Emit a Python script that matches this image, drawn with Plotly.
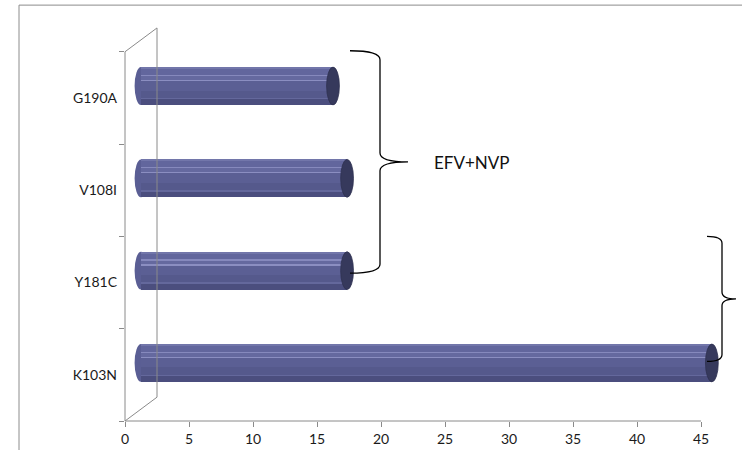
import plotly.graph_objects as go

# Mutations (bottom to top) and their frequencies
mutations = ["K103N", "Y181C", "V108I", "G190A"]
frequency = [44.6, 16.1, 16.1, 15.0]
x_ticks = [0, 5, 10, 15, 20, 25, 30, 35, 40, 45]
group_label = "EFV+NVP"

W, H = 742, 450
L, R, T, B = 125, 3, 20, 26
PX_PER_X = 12.8          # pixels per unit on the value axis
PX_PER_CAT = 93.0        # pixels per category band
DEPTH_X, DEPTH_Y = 32, 24  # 3-D depth offset of the back wall (px)

plot_w = W - L - R
plot_h = H - T - B
x_max = plot_w / PX_PER_X
y_lo = -0.5
y_hi = y_lo + plot_h / PX_PER_CAT

# bars sit half way into the depth
sx = (DEPTH_X / 2) / PX_PER_X
sy = (DEPTH_Y / 2) / PX_PER_CAT

BAR_T = 0.41  # bar thickness in category units
# (from-top fraction, to-top fraction, colour) stripes giving a cylinder shading
stripes = [
    (0.00, 0.05, "#7276aa"),
    (0.05, 0.20, "#62669d"),
    (0.20, 0.24, "#8689bd"),
    (0.24, 0.33, "#65699f"),
    (0.33, 0.37, "#8b8ec1"),
    (0.37, 0.62, "#5b5f94"),
    (0.62, 0.81, "#55598c"),
    (0.81, 0.85, "#64689c"),
    (0.85, 1.00, "#4b4e7e"),
]

fig = go.Figure()

# invisible trace so the front category axis carries the labels
fig.add_trace(go.Scatter(x=[0] * len(mutations), y=mutations, mode="markers",
                         marker=dict(opacity=0, size=1), hoverinfo="skip",
                         showlegend=False))

for f0, f1, col in stripes:
    fig.add_trace(go.Bar(
        x=frequency, y=mutations, orientation="h",
        width=(f1 - f0) * BAR_T, offset=BAR_T / 2 - f1 * BAR_T,
        marker=dict(color=col, line=dict(width=0)),
        xaxis="x2", yaxis="y2", showlegend=False, hoverinfo="skip",
    ))

shapes = []
cap_rx = 0.5  # half-width of the cylinder end ellipses (value units)
for i, v in enumerate(frequency):
    # rounded left end
    shapes.append(dict(type="circle", xref="x2", yref="y2", layer="below",
                       x0=-cap_rx, x1=cap_rx, y0=i - BAR_T / 2, y1=i + BAR_T / 2,
                       fillcolor="#5a5e94", line=dict(width=0)))
    # dark right cap
    shapes.append(dict(type="circle", xref="x2", yref="y2", layer="above",
                       x0=v - cap_rx, x1=v + cap_rx, y0=i - BAR_T / 2, y1=i + BAR_T / 2,
                       fillcolor="#36395c", line=dict(color="#2e3150", width=0.8)))

AX = "#8a8a8a"
dx_depth = DEPTH_X / PX_PER_X
dy_depth = DEPTH_Y / PX_PER_CAT
n = len(mutations)
# front axis lines
shapes.append(dict(type="line", xref="paper", yref="y", x0=0, x1=0,
                   y0=-0.5, y1=n - 0.5, line=dict(color=AX, width=1)))
shapes.append(dict(type="line", xref="x", yref="paper", x0=0, x1=x_ticks[-1],
                   y0=0, y1=0, line=dict(color=AX, width=1)))
# back wall edges
shapes.append(dict(type="line", xref="x", yref="y", x0=0, x1=dx_depth,
                   y0=-0.5, y1=-0.5 + dy_depth, line=dict(color=AX, width=1)))
shapes.append(dict(type="line", xref="x", yref="y", x0=0, x1=dx_depth,
                   y0=n - 0.5, y1=n - 0.5 + dy_depth, line=dict(color=AX, width=1)))
shapes.append(dict(type="line", xref="x", yref="y", x0=dx_depth, x1=dx_depth,
                   y0=-0.5 + dy_depth, y1=n - 0.5 + dy_depth, line=dict(color=AX, width=1),
                   layer="above"))


def to_paper(px, py):
    return (px - L) / plot_w, (H - B - py) / plot_h


def brace_path(x_open, x_spine, x_tip, top, bottom, r=9):
    mid = (top + bottom) / 2
    pts = [
        ("M", [(x_open, top)]),
        ("Q", [(x_spine, top), (x_spine, top + r)]),
        ("L", [(x_spine, mid - r)]),
        ("Q", [(x_spine, mid), (x_tip, mid)]),
        ("Q", [(x_spine, mid), (x_spine, mid + r)]),
        ("L", [(x_spine, bottom - r)]),
        ("Q", [(x_spine, bottom), (x_open, bottom)]),
    ]
    out = []
    for cmd, ps in pts:
        coords = " ".join("%.5f,%.5f" % to_paper(*p) for p in ps)
        out.append(cmd + " " + coords)
    return " ".join(out)


shapes.append(dict(type="path", xref="paper", yref="paper",
                   path=brace_path(350, 380, 408, 51, 275),
                   line=dict(color="#000000", width=1.3)))
shapes.append(dict(type="path", xref="paper", yref="paper",
                   path=brace_path(707, 722, 736, 238, 364, r=7),
                   line=dict(color="#000000", width=1.3)))

# chart frame
fx0, fy0 = to_paper(19, 5)
fx1, fy1 = to_paper(W + 5, H + 5)
shapes.append(dict(type="rect", xref="paper", yref="paper",
                   x0=fx0, y0=fy1, x1=fx1, y1=fy0,
                   line=dict(color="#8c8c8c", width=1), fillcolor="rgba(0,0,0,0)"))

ax_font = dict(family="Lato, Open Sans, sans-serif", size=14, color="#1a1a1a")

tx, ty = to_paper(432, 164)
fig.update_layout(
    width=W, height=H,
    margin=dict(l=L, r=R, t=T, b=B, pad=0),
    paper_bgcolor="white", plot_bgcolor="white",
    barmode="overlay", bargap=0,
    shapes=shapes,
    annotations=[dict(text=group_label, xref="paper", yref="paper", x=tx, y=ty,
                      xanchor="left", yanchor="middle", showarrow=False,
                      font=dict(family="Lato, Open Sans, sans-serif", size=17,
                                color="#111111"))],
    xaxis=dict(range=[0, x_max], tickmode="array", tickvals=x_ticks,
               ticks="outside", ticklen=5, tickcolor=AX, showgrid=False,
               zeroline=False, showline=False, tickfont=ax_font, fixedrange=True),
    yaxis=dict(type="category", categoryorder="array", categoryarray=mutations,
               range=[y_lo, y_hi], tickson="boundaries", ticks="outside",
               ticklen=5, tickcolor=AX, showgrid=False, zeroline=False,
               showline=False, tickfont=ax_font, ticklabelstandoff=7,
               fixedrange=True),
    xaxis2=dict(overlaying="x", range=[-sx, x_max - sx], visible=False,
                fixedrange=True),
    yaxis2=dict(overlaying="y", type="category", categoryorder="array",
                categoryarray=mutations, range=[y_lo - sy, y_hi - sy],
                visible=False, fixedrange=True),
)

fig.write_html("out.html")
